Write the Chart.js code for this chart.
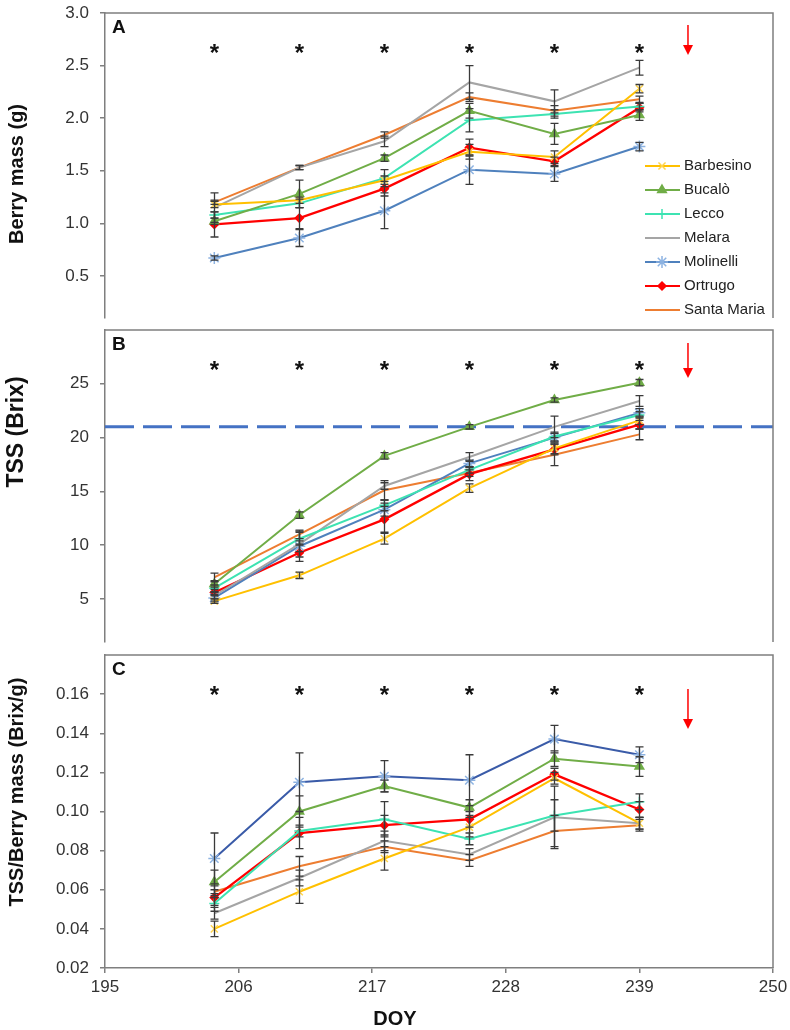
<!DOCTYPE html>
<html>
<head>
<meta charset="utf-8">
<script src="https://cdn.jsdelivr.net/npm/chart.js@4/dist/chart.umd.min.js"></script>
<style>
html, body { margin: 0; padding: 0; background: #fff; }
#wrap { position: relative; width: 790px; height: 1030px; }
canvas { position: absolute; left: 0; }
</style>
</head>
<body>
<div id="wrap">
	<canvas id="panelA" style="top:0px" width="790" height="330"></canvas>
	<canvas id="panelB" style="top:320px" width="790" height="335"></canvas>
	<canvas id="panelC" style="top:645px" width="790" height="385"></canvas>
</div>
<script>
// sampling days (DOY) and cultivars
const cultivars = ['Barbesino', 'Bucalò', 'Lecco', 'Melara', 'Molinelli', 'Ortrugo', 'Santa Maria'];
const days = [204, 211, 218, 225, 232, 239];
const starDays = [204, 211, 218, 225, 232, 239];
const harvestDay = 243;
const tssThreshold = 21;
const xTicks = [195, 206, 217, 228, 239, 250];

// panel A: berry mass (g), rows follow cultivars
const berryMass = [
	[1.18, 1.22, 1.41, 1.68, 1.63, 2.28],
	[1.02, 1.28, 1.62, 2.07, 1.85, 2.03],
	[1.08, 1.19, 1.43, 1.98, 2.04, 2.11],
	[1.15, 1.53, 1.78, 2.34, 2.16, 2.48],
	[0.67, 0.86, 1.12, 1.51, 1.47, 1.73],
	[0.99, 1.05, 1.33, 1.72, 1.59, 2.10],
	[1.20, 1.53, 1.84, 2.20, 2.07, 2.18]
];
const berryMassErr = [
	[0.03, 0.03, 0.04, 0.07, 0.06, 0.04],
	[0.03, 0.13, 0.03, 0.07, 0.10, 0.05],
	[0.03, 0.04, 0.08, 0.11, 0.04, 0.03],
	[0.14, 0.02, 0.05, 0.16, 0.11, 0.07],
	[0.02, 0.08, 0.17, 0.14, 0.07, 0.04],
	[0.12, 0.10, 0.07, 0.08, 0.04, 0.04],
	[0.02, 0.02, 0.03, 0.04, 0.05, 0.03]
];
const ticksA = [0.5, 1.0, 1.5, 2.0, 2.5, 3.0];

// panel B: TSS (Brix)
const tss = [
	[4.8, 7.2, 10.6, 15.3, 19.0, 21.6],
	[6.4, 12.8, 18.3, 21.0, 23.5, 25.1],
	[6.0, 10.6, 13.7, 17.0, 20.1, 22.1],
	[5.3, 10.1, 15.5, 18.2, 21.0, 23.4],
	[5.1, 9.9, 13.3, 17.6, 20.0, 22.3],
	[5.6, 9.3, 12.4, 16.6, 18.9, 21.2],
	[7.0, 11.0, 15.1, 16.7, 18.4, 20.3]
];
const tssErr = [
	[0.2, 0.3, 0.5, 0.4, 0.5, 0.4],
	[0.3, 0.3, 0.3, 0.2, 0.2, 0.3],
	[0.3, 0.6, 0.5, 0.3, 0.4, 0.3],
	[0.3, 1.2, 0.3, 0.4, 1.0, 0.5],
	[0.3, 0.5, 0.6, 0.3, 0.4, 0.4],
	[0.3, 0.8, 1.2, 0.6, 0.5, 0.4],
	[0.4, 0.4, 0.9, 0.3, 1.0, 0.5]
];
const ticksB = [5, 10, 15, 20, 25];

// panel C: TSS / berry mass (Brix/g)
const ratio = [
	[0.040, 0.059, 0.076, 0.092, 0.117, 0.094],
	[0.064, 0.100, 0.113, 0.102, 0.127, 0.123],
	[0.053, 0.090, 0.096, 0.086, 0.098, 0.105],
	[0.048, 0.066, 0.085, 0.078, 0.097, 0.094],
	[0.076, 0.115, 0.118, 0.116, 0.137, 0.129],
	[0.056, 0.089, 0.093, 0.096, 0.119, 0.101],
	[0.059, 0.072, 0.082, 0.075, 0.090, 0.093]
];
const ratioErr = [
	[0.004, 0.006, 0.006, 0.005, 0.003, 0.003],
	[0.006, 0.008, 0.003, 0.004, 0.004, 0.005],
	[0.004, 0.003, 0.009, 0.003, 0.008, 0.004],
	[0.003, 0.004, 0.005, 0.003, 0.016, 0.003],
	[0.013, 0.015, 0.008, 0.013, 0.007, 0.004],
	[0.004, 0.008, 0.005, 0.004, 0.003, 0.004],
	[0.003, 0.005, 0.003, 0.003, 0.008, 0.003]
];
const ticksC = [0.02, 0.04, 0.06, 0.08, 0.10, 0.12, 0.14, 0.16];

const lineColours = ['#FFC000', '#70AD47', '#3DE3B2', '#A5A5A5', '#4F81BD', '#FF0000', '#ED7D31'];
const markerColours = ['#FFD54F', '#70AD47', '#3DE3B2', '#A5A5A5', '#8DB3E2', '#FF0000', '#ED7D31'];
const markerStyles = ['crossRot', 'triangle', 'cross', false, 'star', 'rectRot', false];
const markerSizes = [5, 5, 5, 0, 6, 4, 0];

const FONT = 'Arial, "Liberation Sans", sans-serif';
const AXIS = '#7f7f7f';

Chart.defaults.font.family = FONT;
Chart.defaults.animation = false;

const decor = {
	id: 'decor',
	afterDatasetsDraw(chart) {
		const ctx = chart.ctx;
		const xs = chart.scales.x, ys = chart.scales.y;
		ctx.save();
		ctx.strokeStyle = '#3a3a3a';
		ctx.lineWidth = 1.3;
		chart.data.datasets.forEach(ds => {
			if (!ds.errors) return;
			ds.data.forEach((p, i) => {
				const e = ds.errors[i];
				const x = Math.round(xs.getPixelForValue(p.x)) + 0.5;
				const y1 = ys.getPixelForValue(p.y - e);
				const y2 = ys.getPixelForValue(p.y + e);
				ctx.beginPath();
				ctx.moveTo(x, y1); ctx.lineTo(x, y2);
				ctx.moveTo(x - 4, y1); ctx.lineTo(x + 4, y1);
				ctx.moveTo(x - 4, y2); ctx.lineTo(x + 4, y2);
				ctx.stroke();
			});
		});
		ctx.restore();
	},
	afterDraw(chart, args, opts) {
		const ctx = chart.ctx;
		const a = chart.chartArea;
		const xs = chart.scales.x;
		ctx.save();
		// top and right of the frame
		ctx.strokeStyle = AXIS;
		ctx.lineWidth = 1.5;
		ctx.beginPath();
		ctx.moveTo(a.left, a.top);
		ctx.lineTo(a.right, a.top);
		ctx.lineTo(a.right, a.bottom);
		ctx.stroke();

		// panel letter
		ctx.fillStyle = '#111';
		ctx.font = 'bold 19px ' + FONT;
		ctx.textAlign = 'left';
		ctx.textBaseline = 'alphabetic';
		ctx.fillText(opts.letter, a.left + 7, a.top + 20);

		// significance stars
		ctx.font = 'bold 24px ' + FONT;
		ctx.textAlign = 'center';
		starDays.forEach(d => ctx.fillText('*', xs.getPixelForValue(d), a.top + 34 + 14));

		// harvest arrow
		const ax = xs.getPixelForValue(harvestDay);
		const top = a.top + opts.arrow[0], bottom = a.top + opts.arrow[1];
		ctx.strokeStyle = '#FF0000';
		ctx.fillStyle = '#FF0000';
		ctx.lineWidth = 1.5;
		ctx.beginPath();
		ctx.moveTo(ax, top);
		ctx.lineTo(ax, bottom - 9);
		ctx.stroke();
		ctx.beginPath();
		ctx.moveTo(ax - 5, bottom - 10);
		ctx.lineTo(ax + 5, bottom - 10);
		ctx.lineTo(ax, bottom);
		ctx.closePath();
		ctx.fill();

		// y axis title
		ctx.save();
		ctx.translate(opts.titlePos[0], opts.titlePos[1]);
		ctx.rotate(-Math.PI / 2);
		ctx.fillStyle = '#111';
		ctx.font = 'bold ' + opts.titleSize + 'px ' + FONT;
		ctx.textAlign = 'center';
		ctx.textBaseline = 'middle';
		ctx.fillText(opts.title, 0, 0);
		ctx.restore();

		// x axis title
		if (opts.xTitle) {
			ctx.fillStyle = '#111';
			ctx.font = 'bold 20px ' + FONT;
			ctx.textAlign = 'center';
			ctx.textBaseline = 'middle';
			ctx.fillText(opts.xTitle, opts.xTitlePos[0], opts.xTitlePos[1]);
		}

		// legend
		if (opts.legend) {
			ctx.font = '15px ' + FONT;
			ctx.textAlign = 'left';
			ctx.textBaseline = 'middle';
			cultivars.forEach((name, i) => {
				const y = 166 + i * 24;
				ctx.strokeStyle = lineColours[i];
				ctx.lineWidth = 2;
				ctx.beginPath();
				ctx.moveTo(645, y);
				ctx.lineTo(680, y);
				ctx.stroke();
				if (markerStyles[i] && Chart.helpers && Chart.helpers.drawPoint) {
					ctx.strokeStyle = markerColours[i];
					ctx.fillStyle = markerColours[i];
					ctx.lineWidth = 1.5;
					Chart.helpers.drawPoint(ctx, {pointStyle: markerStyles[i], radius: markerSizes[i], rotation: 0, borderWidth: 1.5}, 662, y);
				}
				ctx.fillStyle = '#222';
				ctx.fillText(name, 684, y);
			});
		}
		ctx.restore();
	}
};

function seriesSets(values, errors, blueOverride) {
	return cultivars.map((name, i) => ({
		label: name,
		data: days.map((d, j) => ({x: d, y: values[i][j]})),
		errors: errors[i],
		borderColor: (i === 4 && blueOverride) ? blueOverride : lineColours[i],
		borderWidth: i === 5 ? 2.3 : 2,
		pointStyle: markerStyles[i] || 'circle',
		pointRadius: markerSizes[i],
		pointBorderColor: markerColours[i],
		pointBackgroundColor: markerColours[i],
		pointBorderWidth: 1.5,
		tension: 0
	}));
}

function drawPanel(id, datasets, yMin, yMax, yTicks, digits, padding, decorOpts, showX) {
	const xScale = {
		type: 'linear',
		min: 195,
		max: 250,
		display: showX,
		afterBuildTicks: s => { s.ticks = xTicks.map(v => ({value: v})); },
		afterFit: s => {
			if (showX) s.height = 50;
			s.paddingLeft = 0;
			s.paddingRight = 0;
		},
		border: {color: AXIS, width: 1.5},
		grid: {drawOnChartArea: false, tickLength: 5, color: AXIS, lineWidth: 1.5},
		ticks: {font: {size: 17}, color: '#333', padding: 4, maxRotation: 0}
	};
	new Chart(document.getElementById(id), {
		type: 'line',
		data: {datasets: datasets},
		options: {
			responsive: false,
			devicePixelRatio: 1,
			layout: {padding: padding},
			scales: {
				x: xScale,
				y: {
					min: yMin,
					max: yMax,
					afterBuildTicks: s => { s.ticks = yTicks.map(v => ({value: v})); },
					afterFit: s => {
						s.width = 105;
						s.paddingTop = 0;
						s.paddingBottom = 0;
					},
					border: {color: AXIS, width: 1.5},
					grid: {drawOnChartArea: false, tickLength: 5, color: AXIS, lineWidth: 1.5},
					ticks: {font: {size: 17}, color: '#333', padding: 11, callback: v => v.toFixed(digits)}
				}
			},
			plugins: {
				legend: {display: false},
				tooltip: {enabled: false},
				decor: decorOpts
			}
		},
		plugins: [decor]
	});
}

drawPanel('panelA', seriesSets(berryMass, berryMassErr), 0.1, 3.0, ticksA, 1,
	{left: 0, right: 17, top: 13, bottom: 12},
	{letter: 'A', arrow: [12, 42], title: 'Berry mass (g)', titleSize: 20, titlePos: [17, 174], legend: true}, false);

const tssSets = seriesSets(tss, tssErr);
tssSets.push({
	label: 'threshold',
	data: [{x: 195, y: tssThreshold}, {x: 250, y: tssThreshold}],
	borderColor: '#4472C4',
	borderWidth: 3,
	borderDash: [29, 9],
	pointRadius: 0
});
drawPanel('panelB', tssSets, 1, 30, ticksB, 0,
	{left: 0, right: 17, top: 10, bottom: 13},
	{letter: 'B', arrow: [13, 48], title: 'TSS (Brix)', titleSize: 23, titlePos: [17, 112]}, false);

drawPanel('panelC', seriesSets(ratio, ratioErr, '#3A5BA8'), 0.02, 0.18, ticksC, 2,
	{left: 0, right: 17, top: 10, bottom: 12},
	{letter: 'C', arrow: [34, 74], title: 'TSS/Berry mass (Brix/g)', titleSize: 20, titlePos: [17, 147],
	 xTitle: 'DOY', xTitlePos: [395, 374]}, true);
</script>
</body>
</html>
